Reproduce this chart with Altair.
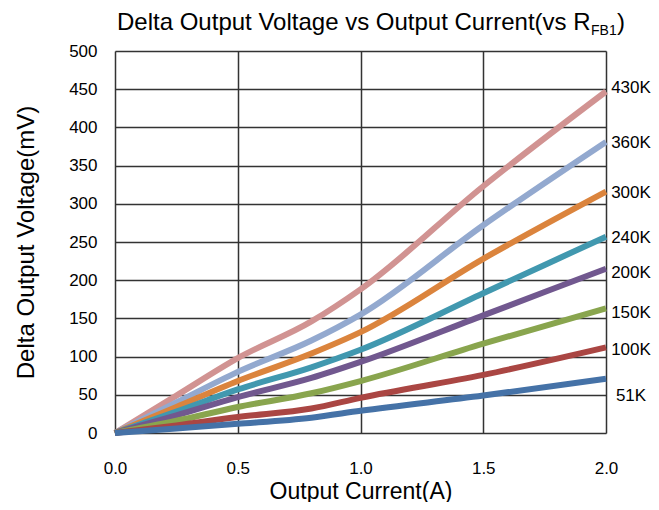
import altair as alt
import pandas as pd

current = [0.0, 0.25, 0.5, 0.8, 1.0, 1.5, 2.0]
series = ["430K", "360K", "300K", "240K", "200K", "150K", "100K", "51K"]
values = {
    "430K": [0, 49, 98, 146, 188, 323, 447],
    "360K": [0, 40, 80, 121, 155, 272, 381],
    "300K": [0, 34, 68, 104, 132, 228, 316],
    "240K": [0, 28, 57, 86, 109, 183, 257],
    "200K": [0, 23, 47, 72, 93, 154, 215],
    "150K": [0, 16, 34, 52, 68, 117, 163],
    "100K": [0, 10, 21, 32, 46, 76, 112],
    "51K":  [0, 6, 12, 20, 29, 49, 71],
}
colors = ["#D19392", "#93A9CF", "#DB843D", "#4198AF", "#71588F", "#89A54E", "#AA4643", "#4572A7"]
label_y = [451, 380, 314, 255, 209, 157, 108, 49]
x_ticks = [0.0, 0.5, 1.0, 1.5, 2.0]
y_ticks = [0, 50, 100, 150, 200, 250, 300, 350, 400, 450, 500]

rows = []
for s in series:
    for x, v in zip(current, values[s]):
        rows.append({"series": s, "current": x, "dv": v})
df = pd.DataFrame(rows)
df["order"] = df["series"].map({s: i for i, s in enumerate(series)})
labels = pd.DataFrame({"series": series, "current": [2.0] * len(series), "dv": label_y})
one = pd.DataFrame({"k": [0]})

FONT = "Liberation Sans"

xenc = alt.X("current:Q", scale=alt.Scale(domain=[0, 2], nice=False),
             axis=alt.Axis(values=x_ticks, format=".1f", title="Output Current(A)",
                           grid=True, gridColor="#333333", gridWidth=1.5, ticks=False, domain=False,
                           labelOverlap=False, labelFlush=False,
                           labelPadding=27, labelFontSize=17, labelFont=FONT, labelColor="#000000",
                           titleFont=FONT, titleFontSize=23, titleFontWeight="normal", titleColor="#000000",
                           titlePadding=4))
yenc = alt.Y("dv:Q", scale=alt.Scale(domain=[0, 500], nice=False),
             axis=alt.Axis(values=y_ticks, title="Delta Output Voltage(mV)",
                           grid=True, gridColor="#333333", gridWidth=1.5, ticks=False, domain=False,
                           labelOverlap=False, labelFlush=False,
                           labelPadding=18, labelFontSize=17, labelFont=FONT, labelColor="#000000",
                           titleFont=FONT, titleFontSize=24, titleFontWeight="normal", titleColor="#000000",
                           titlePadding=30))

color = alt.Color("series:N", scale=alt.Scale(domain=series, range=colors), legend=None)

lines = alt.Chart(df).mark_line(interpolate="monotone", strokeWidth=6, clip=False).encode(
    x=xenc, y=yenc, color=color, order=alt.Order("order:Q")
)

text = alt.Chart(labels).mark_text(align="center", baseline="middle", dx=25, fontSize=17,
                                   font=FONT, color="#000000").encode(
    x=xenc, y=yenc, text="series:N"
)

title_main = alt.Chart(one).mark_text(align="left", baseline="alphabetic", fontSize=24, font=FONT,
                                      color="#000000").encode(
    x=alt.value(2), y=alt.value(-21), text=alt.value("Delta Output Voltage vs Output Current(vs R")
)
title_sub = alt.Chart(one).mark_text(align="left", baseline="alphabetic", fontSize=14, font=FONT,
                                     color="#000000").encode(
    x=alt.value(476), y=alt.value(-16), text=alt.value("FB1")
)
title_end = alt.Chart(one).mark_text(align="left", baseline="alphabetic", fontSize=24, font=FONT,
                                     color="#000000").encode(
    x=alt.value(502), y=alt.value(-21), text=alt.value(")")
)

chart = alt.layer(lines, text, title_main, title_sub, title_end).properties(
    width=491, height=382,
    padding={"left": 107, "top": 43, "right": 45, "bottom": 69},
    autosize=alt.AutoSizeParams(type="none"),
).configure_view(stroke="#000000", strokeWidth=2).configure(background="#ffffff")

chart.save("out.html", embed_options={"renderer": "svg", "actions": False})
